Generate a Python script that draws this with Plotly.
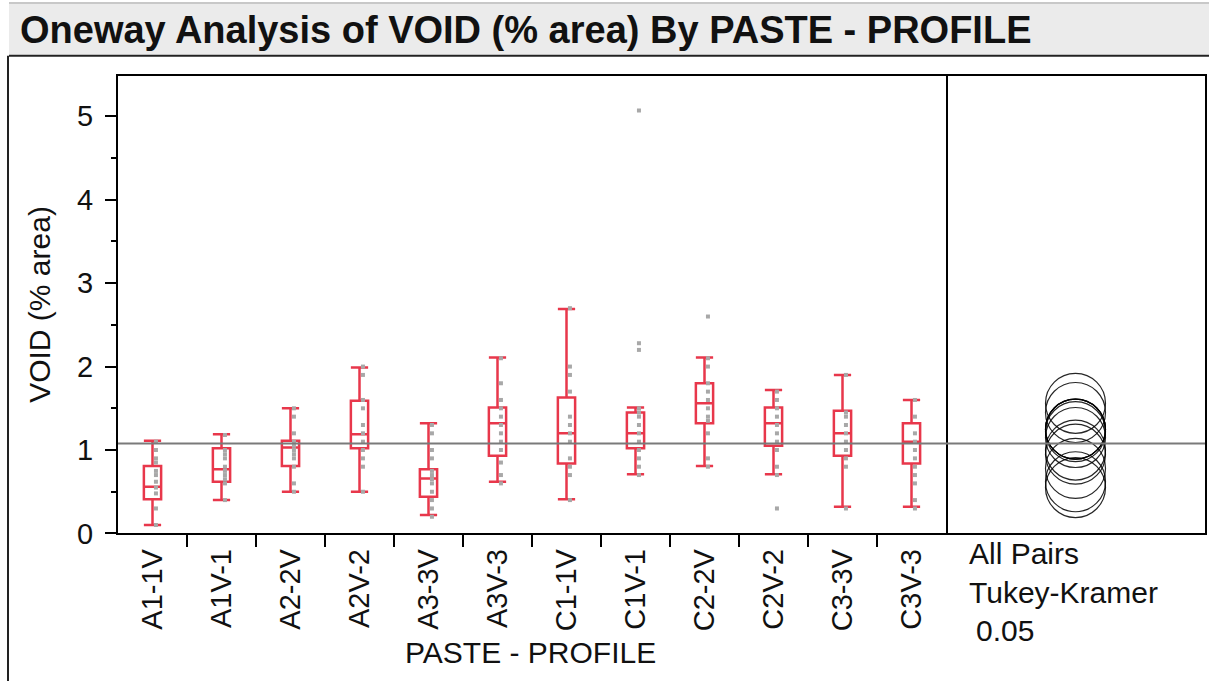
import plotly.graph_objects as go

W, H = 1209, 697

# ---------------- data ----------------
categories = ["A1-1V", "A1V-1", "A2-2V", "A2V-2", "A3-3V", "A3V-3",
              "C1-1V", "C1V-1", "C2-2V", "C2V-2", "C3-3V", "C3V-3"]

q1 = [0.41, 0.62, 0.81, 1.02, 0.44, 0.93, 0.84, 1.02, 1.32, 1.05, 0.93, 0.84]
median = [0.56, 0.77, 1.03, 1.19, 0.66, 1.32, 1.20, 1.20, 1.56, 1.32, 1.20, 1.10]
q3 = [0.81, 1.02, 1.11, 1.59, 0.77, 1.51, 1.63, 1.45, 1.80, 1.51, 1.47, 1.32]
whisker_low = [0.10, 0.40, 0.50, 0.50, 0.22, 0.62, 0.41, 0.71, 0.81, 0.71, 0.32, 0.32]
whisker_high = [1.11, 1.19, 1.50, 1.99, 1.32, 2.11, 2.69, 1.51, 2.11, 1.72, 1.90, 1.60]

points = [
    [0.10, 0.30, 0.48, 0.55, 0.62, 0.70, 0.75, 0.85, 0.90, 1.00, 1.10],
    [0.40, 0.60, 0.65, 0.70, 0.75, 0.80, 0.90, 0.95, 1.00, 1.18],
    [0.50, 0.60, 0.80, 0.90, 0.95, 1.00, 1.05, 1.10, 1.20, 1.40, 1.50],
    [0.50, 0.80, 0.90, 1.00, 1.10, 1.20, 1.30, 1.50, 1.60, 1.90, 2.00],
    [0.20, 0.30, 0.40, 0.50, 0.60, 0.65, 0.70, 0.75, 0.90, 1.00, 1.20, 1.30],
    [0.60, 0.70, 0.85, 1.00, 1.10, 1.20, 1.30, 1.40, 1.50, 1.60, 1.80, 2.10],
    [0.40, 0.70, 0.80, 0.90, 1.10, 1.20, 1.30, 1.40, 1.70, 1.90, 2.00, 2.70],
    [0.70, 0.80, 0.90, 1.00, 1.10, 1.20, 1.30, 1.40, 1.45, 1.50, 2.20, 2.28, 5.07],
    [0.80, 0.90, 1.20, 1.35, 1.40, 1.50, 1.60, 1.70, 1.80, 2.00, 2.10, 2.60],
    [0.30, 0.70, 0.80, 1.00, 1.10, 1.20, 1.30, 1.40, 1.50, 1.60, 1.70],
    [0.30, 0.80, 0.90, 1.00, 1.10, 1.20, 1.30, 1.40, 1.45, 1.90],
    [0.30, 0.40, 0.60, 0.70, 0.80, 0.90, 1.00, 1.10, 1.20, 1.40, 1.60],
]

group_means = [0.55, 0.78, 0.95, 1.25, 0.62, 1.25, 1.25, 1.45, 1.56, 1.22, 1.15, 1.00]
grand_mean = 1.077

y_ticks = [0, 1, 2, 3, 4, 5]
y_minor_ticks = [0.5, 1.5, 2.5, 3.5, 4.5]
y_range = [0, 5.48]

# ---------------- layout helpers ----------------
def px(x):
    return x / W

def py(y):
    return 1 - y / H

RED = "#E8374B"
FONT = "Liberation Sans, Arial, sans-serif"
TXT = "#111"

fig = go.Figure()

# boxes
fig.add_trace(go.Box(
    x=list(range(len(categories))),
    q1=q1, median=median, q3=q3,
    lowerfence=whisker_low, upperfence=whisker_high,
    boxpoints=False,
    width=0.25, whiskerwidth=1,
    line=dict(color=RED, width=2.5),
    fillcolor="rgba(0,0,0,0)",
    xaxis="x", yaxis="y",
    showlegend=False, hoverinfo="skip",
))

# raw points
px_list, py_list = [], []
for i, vals in enumerate(points):
    for v in vals:
        px_list.append(i + 0.05)
        py_list.append(v)
fig.add_trace(go.Scatter(
    x=px_list, y=py_list, mode="markers",
    marker=dict(symbol="square", size=4, color="#A8A8A8"),
    xaxis="x", yaxis="y", showlegend=False, hoverinfo="skip",
))

# invisible trace to activate the minor-tick overlay axis
fig.add_trace(go.Scatter(
    x=[0], y=[0], mode="markers", marker=dict(size=0.1, opacity=0),
    xaxis="x", yaxis="y3", showlegend=False, hoverinfo="skip",
))

# comparison circles
fig.add_trace(go.Scatter(
    x=[0.5] * len(group_means), y=group_means, mode="markers",
    marker=dict(symbol="circle-open", size=60, color="rgba(0,0,0,0.85)",
                line=dict(width=1.2, color="rgba(0,0,0,0.85)")),
    xaxis="x2", yaxis="y2", showlegend=False, hoverinfo="skip",
))

x_left, x_mid, x_right = 118, 946, 1205
y_top, y_bot = 78, 546

fig.update_layout(
    width=W, height=H,
    margin=dict(l=0, r=0, t=0, b=0),
    paper_bgcolor="white", plot_bgcolor="white",
    font=dict(family=FONT, color=TXT),
    xaxis=dict(
        domain=[px(x_left), px(x_mid)], range=[-0.5, len(categories) - 0.5],
        tickmode="array", tickvals=list(range(len(categories))), ticktext=categories,
        tickangle=-90, ticks="", tickfont=dict(size=29, family=FONT, color=TXT),
        showline=True, mirror=True, linecolor="black", linewidth=2,
        showgrid=False, zeroline=False, anchor="y",
        minor=dict(tickmode="array", tickvals=[i + 0.5 for i in range(len(categories) - 1)],
                   ticks="outside", ticklen=12, tickwidth=2, tickcolor="black"),
        ticklabelstandoff=2,
    ),
    yaxis=dict(
        domain=[py(y_bot), py(y_top)], range=y_range,
        tickmode="array", tickvals=y_ticks, ticks="outside", ticklen=11, tickwidth=2,
        tickcolor="black", tickfont=dict(size=29, family=FONT, color=TXT),
        showline=True, mirror=True, linecolor="black", linewidth=2,
        showgrid=False, zeroline=False, anchor="x",
        ticklabelstandoff=6,
    ),
    yaxis3=dict(
        overlaying="y", anchor="x", side="left", range=y_range,
        tickmode="array", tickvals=y_minor_ticks, showticklabels=False,
        ticks="outside", ticklen=6, tickwidth=2, tickcolor="black",
        showline=False, showgrid=False, zeroline=False,
    ),
    xaxis2=dict(
        domain=[px(x_mid), px(x_right)], range=[0, 1],
        showticklabels=False, ticks="", showline=True, mirror=True,
        linecolor="black", linewidth=2, showgrid=False, zeroline=False, anchor="y2",
    ),
    yaxis2=dict(
        domain=[py(y_bot), py(y_top)], range=y_range, side="right",
        showticklabels=False, ticks="", showline=True, mirror=False,
        linecolor="black", linewidth=2, showgrid=False, zeroline=False, anchor="x2",
    ),
)

shapes = [
    # title bar
    dict(type="rect", xref="paper", yref="paper", x0=px(9), x1=1, y0=py(56), y1=py(3),
         fillcolor="#EBEBEB", line=dict(width=0), layer="below"),
    dict(type="line", xref="paper", yref="paper", x0=px(9), x1=1, y0=py(3), y1=py(3),
         line=dict(color="#C8C8C8", width=2)),
    dict(type="line", xref="paper", yref="paper", x0=px(9), x1=1, y0=py(57), y1=py(57),
         line=dict(color="#222", width=2)),
    # left frame line
    dict(type="line", xref="paper", yref="paper", x0=px(8), x1=px(8), y0=py(57), y1=0,
         line=dict(color="#222", width=2)),
    # grand mean line
    dict(type="line", xref="paper", yref="y", x0=px(x_left), x1=px(x_right),
         y0=grand_mean, y1=grand_mean, line=dict(color="#7A7A7A", width=2)),
]
fig.update_layout(shapes=shapes)

annotations = [
    dict(text="<b>Oneway Analysis of VOID (% area) By PASTE - PROFILE</b>",
         xref="paper", yref="paper", x=px(18), y=py(31), xanchor="left", yanchor="middle",
         showarrow=False, font=dict(size=38, family=FONT, color=TXT)),
    dict(text="VOID (% area)", xref="paper", yref="paper", x=px(40), y=py(312),
         xanchor="center", yanchor="middle", textangle=-90, showarrow=False,
         font=dict(size=30, family=FONT, color=TXT)),
    dict(text="PASTE - PROFILE", xref="paper", yref="paper", x=px(530), y=py(668),
         xanchor="center", yanchor="middle", showarrow=False,
         font=dict(size=30, family=FONT, color=TXT)),
    dict(text="All Pairs", xref="paper", yref="paper", x=px(967), y=py(567),
         xanchor="left", yanchor="middle", showarrow=False,
         font=dict(size=30, family=FONT, color=TXT)),
    dict(text="Tukey-Kramer", xref="paper", yref="paper", x=px(967), y=py(606),
         xanchor="left", yanchor="middle", showarrow=False,
         font=dict(size=30, family=FONT, color=TXT)),
    dict(text="0.05", xref="paper", yref="paper", x=px(974), y=py(645),
         xanchor="left", yanchor="middle", showarrow=False,
         font=dict(size=30, family=FONT, color=TXT)),
]
fig.update_layout(annotations=annotations)

fig.write_html("out.html")
